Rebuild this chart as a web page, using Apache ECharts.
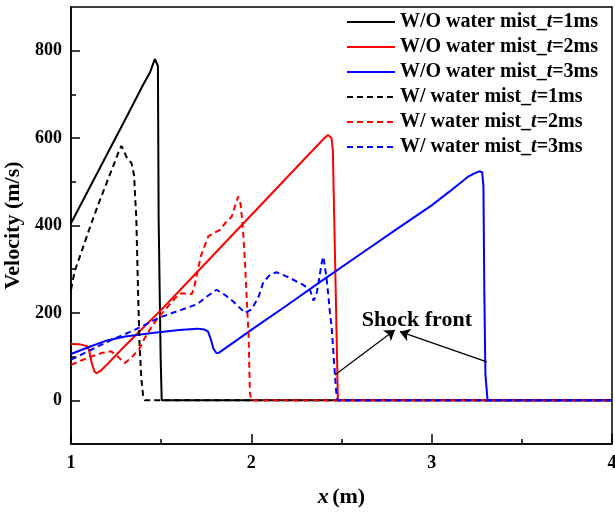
<!DOCTYPE html>
<html>
<head>
<meta charset="utf-8">
<script src="https://cdn.jsdelivr.net/npm/echarts@6/dist/echarts.min.js"></script>
<style>
  html, body { margin: 0; padding: 0; background: #fff; }
  #chart { width: 615px; height: 513px; }
</style>
</head>
<body>
<div id="chart"></div>
<script>
// Velocity profiles along the tube, [x (m), velocity (m/s)]
const withoutMist1ms = [[1,405],[1.1,484],[1.2,563],[1.3,642],[1.4,722],[1.44,752],[1.455,770],[1.465,781],[1.473,778],[1.482,765],[1.486,413],[1.497,100],[1.503,0],[4,0]];
const withoutMist2ms = [[1,129],[1.05,128],[1.09,124],[1.1,115],[1.115,85],[1.13,66],[1.142,62],[1.16,66],[1.2,82],[1.3,125],[1.4,166],[1.5,207],[1.6,250],[1.8,337],[2.0,424],[2.2,511],[2.4,598],[2.425,607],[2.436,608],[2.445,600],[2.452,572],[2.466,290],[2.48,0],[4,0]];
const withoutMist3ms = [[1,106],[1.1,122],[1.2,137],[1.3,146],[1.45,154],[1.6,161],[1.7,164],[1.74,162],[1.76,157],[1.775,140],[1.79,118],[1.805,109],[1.817,108],[1.9,132],[2.0,161],[2.2,218],[2.4,276],[2.6,333],[2.8,390],[3.0,446],[3.1,478],[3.2,511],[3.24,520],[3.265,524],[3.28,522],[3.287,490],[3.292,250],[3.298,60],[3.31,0],[4,0]];
const withMist1ms = [[1,253],[1.02,295],[1.05,330],[1.1,390],[1.15,447],[1.2,500],[1.25,553],[1.27,575],[1.28,582],[1.29,578],[1.31,555],[1.335,543],[1.35,515],[1.355,470],[1.362,420],[1.373,230],[1.38,130],[1.39,50],[1.4,10],[1.41,0],[4,0]];
const withMist2ms = [[1,81],[1.05,90],[1.094,97],[1.168,108],[1.223,112],[1.26,100],[1.297,85],[1.334,97],[1.381,119],[1.408,142],[1.45,170],[1.482,188],[1.538,215],[1.58,235],[1.611,245],[1.67,243],[1.685,262],[1.72,330],[1.761,375],[1.8,384],[1.826,390],[1.854,405],[1.891,420],[1.91,445],[1.927,466],[1.94,450],[1.95,410],[1.957,370],[1.965,314],[1.974,237],[1.985,146],[1.992,17],[2.0,0],[4,0]];
const withMist3ms = [[1,93],[1.094,112],[1.223,138],[1.353,161],[1.482,188],[1.611,207],[1.7,220],[1.752,237],[1.807,253],[1.854,241],[1.9,226],[1.965,200],[2.0,208],[2.038,234],[2.066,270],[2.103,287],[2.14,293],[2.214,280],[2.288,264],[2.325,253],[2.345,228],[2.36,240],[2.373,270],[2.39,314],[2.399,329],[2.408,306],[2.418,276],[2.427,240],[2.436,200],[2.445,169],[2.455,110],[2.463,62],[2.473,9],[2.48,0],[4,0]];

const seriesNames = [
  'W/O water mist_t=1ms', 'W/O water mist_t=2ms', 'W/O water mist_t=3ms',
  'W/ water mist_t=1ms', 'W/ water mist_t=2ms', 'W/ water mist_t=3ms'
];
const seriesData = [withoutMist1ms, withoutMist2ms, withoutMist3ms, withMist1ms, withMist2ms, withMist3ms];
const seriesColors = ['#000000', '#ff0000', '#0000ff', '#000000', '#ff0000', '#0000ff'];
const seriesDashed = [false, false, false, true, true, true];

const yMajorTicks = [0, 200, 400, 600, 800];
const yMinorTicks = [100, 300, 500, 700];

// Arrows pointing at the shock fronts, in data units
const shockArrows = [
  [[2.463, 58], [2.796, 161]],
  [[3.306, 88], [2.824, 157]]
];
const shockLabelAt = [2.918, 184];
const shockLabel = 'Shock front';

const FONT = '"Liberation Serif", "Times New Roman", serif';

const chart = echarts.init(document.getElementById('chart'), null, { renderer: 'canvas' });

const series = seriesNames.map((name, i) => ({
  name: name,
  type: 'line',
  data: seriesData[i],
  symbol: 'none',
  showSymbol: false,
  smooth: false,
  animation: false,
  color: seriesColors[i],
  lineStyle: {
    color: seriesColors[i],
    width: 2,
    type: seriesDashed[i] ? [6, 4] : 'solid'
  },
  emphasis: { disabled: true },
  z: 2 + i
}));

// Annotation carried by the last series
series[5].markLine = {
  silent: true,
  animation: false,
  symbol: ['none', 'arrow'],
  symbolSize: 10,
  label: { show: false },
  lineStyle: { color: '#000', width: 1.2, type: 'solid' },
  itemStyle: { color: '#000' },
  emphasis: { disabled: true },
  data: shockArrows.map(a => [{ coord: a[0] }, { coord: a[1] }])
};
series[5].markPoint = {
  silent: true,
  animation: false,
  symbol: 'rect',
  symbolSize: [1, 1],
  itemStyle: { color: 'rgba(0,0,0,0)' },
  label: {
    show: true,
    position: 'inside',
    formatter: shockLabel,
    color: '#000',
    fontFamily: FONT,
    fontWeight: 'bold',
    fontSize: 22
  },
  data: [{ coord: shockLabelAt }]
};

const option = {
  backgroundColor: '#fff',
  animation: false,
  grid: {
    left: 71, right: 3, top: 7, bottom: 69,
    outerBoundsMode: 'none',
    containLabel: false,
    show: true, borderColor: '#000', borderWidth: 1.5, backgroundColor: 'transparent'
  },
  legend: {
    orient: 'vertical',
    left: 346,
    top: 12,
    padding: 0,
    itemWidth: 48,
    itemHeight: 14,
    itemGap: 5,
    data: seriesNames,
    itemStyle: { opacity: 0 },
    formatter: function (name) {
      const parts = name.split('_t');
      return '{n|' + parts[0] + '_}{i|t}{n|' + parts[1] + '}';
    },
    textStyle: {
      rich: {
        n: { fontFamily: FONT, fontWeight: 'bold', fontSize: 20, color: '#000', lineHeight: 20 },
        i: { fontFamily: FONT, fontWeight: 'bold', fontStyle: 'italic', fontSize: 20, color: '#000', lineHeight: 20 }
      }
    }
  },
  xAxis: {
    type: 'value',
    min: 1, max: 4, interval: 1,
    name: '{i|x} {n|(m)}',
    nameLocation: 'middle',
    nameGap: 42,
    nameTextStyle: {
      rich: {
        i: { fontFamily: FONT, fontWeight: 'bold', fontStyle: 'italic', fontSize: 22, color: '#000' },
        n: { fontFamily: FONT, fontWeight: 'bold', fontSize: 22, color: '#000' }
      }
    },
    axisLine: { show: true, onZero: false, lineStyle: { color: '#000', width: 1.5 } },
    axisTick: { show: true, inside: true, length: 10, lineStyle: { color: '#000', width: 1.5 } },
    minorTick: { show: true, splitNumber: 2, length: 5, lineStyle: { color: '#000', width: 1.5 } },
    axisLabel: { margin: 10, color: '#000', fontFamily: FONT, fontWeight: 'bold', fontSize: 18 },
    splitLine: { show: false }
  },
  yAxis: [
    {
      type: 'value',
      min: -100, max: 900,
      name: 'Velocity (m/s)',
      nameLocation: 'middle',
      nameGap: 39,
      nameTextStyle: { fontFamily: FONT, fontWeight: 'bold', fontSize: 22, color: '#000' },
      axisLine: { show: true, onZero: false, lineStyle: { color: '#000', width: 1.5 } },
      axisTick: { show: true, inside: true, length: 9, customValues: yMajorTicks, lineStyle: { color: '#000', width: 1.5 } },
      axisLabel: { margin: 9, color: '#000', fontFamily: FONT, fontWeight: 'bold', fontSize: 18, customValues: yMajorTicks },
      splitLine: { show: false }
    },
    {
      type: 'value',
      min: -100, max: 900,
      position: 'left',
      axisLine: { show: false },
      axisTick: { show: true, inside: true, length: 5, customValues: yMinorTicks, lineStyle: { color: '#000', width: 1.5 } },
      axisLabel: { show: false, customValues: yMinorTicks },
      splitLine: { show: false }
    }
  ],
  series: series
};

chart.setOption(option);
</script>
</body>
</html>
